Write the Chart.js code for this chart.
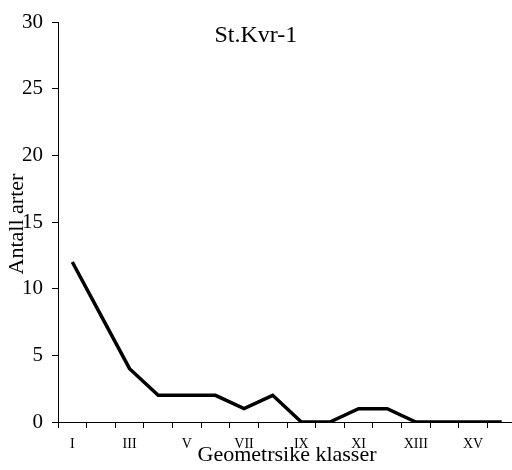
<!DOCTYPE html>
<html><head><meta charset="utf-8">
<script src="https://cdn.jsdelivr.net/npm/chart.js@4/dist/chart.umd.min.js"></script>
<style>html,body{margin:0;padding:0;background:#fff;overflow:hidden}#wrap{width:512px;height:470px;overflow:hidden}</style>
</head><body><div id="wrap"><canvas id="c" width="530" height="470" style="width:530px;height:470px"></canvas></div>
<script>
const categories = ["I","II","III","IV","V","VI","VII","VIII","IX","X","XI","XII","XIII","XIV","XV","XVI"];
const antallArter = [12,8,4,2,2,2,1,2,0,0,1,1,0,0,0,0];
const yTicks = [0,5,10,15,20,25,30];
const chartTitle = "St.Kvr-1";
const yTitle = "Antall arter";
const xTitle = "Geometrsike klasser";
const serif = "'Liberation Serif','Times New Roman',serif";

const textPlugin = {
  id: 'texts',
  afterDraw(chart) {
    const ctx = chart.ctx, a = chart.chartArea;
    ctx.save();
    ctx.fillStyle = '#000';
    ctx.font = "24px " + serif;
    ctx.textAlign = 'center';
    ctx.textBaseline = 'middle';
    ctx.fillText(chartTitle, a.left + (a.right - a.left) * 0.432, a.top + 14);
    ctx.translate(17, a.top + (a.bottom - a.top) * 0.505);
    ctx.rotate(-Math.PI / 2);
    ctx.font = "22px " + serif;
    ctx.fillText(yTitle, 0, 0);
    ctx.restore();
  }
};

new Chart(document.getElementById('c'), {
  type: 'line',
  data: { labels: categories, datasets: [{ data: antallArter, borderColor: '#000', borderWidth: 3.5, pointRadius: 0, tension: 0, fill: false }] },
  options: {
    responsive: false, animation: false,
    layout: { padding: { left: 0, right: 14, top: 22, bottom: 0 } },
    plugins: { legend: { display: false }, tooltip: { enabled: false } },
    scales: {
      x: {
        offset: true,
        grid: { offset: true, drawOnChartArea: false, drawTicks: true, tickLength: 6, color: '#000', lineWidth: 1 },
        border: { color: '#000', width: 1 },
        ticks: { autoSkip: false, maxRotation: 0, color: '#000', font: { family: serif, size: 14 }, padding: 8,
          callback: (v, i) => i % 2 === 0 ? categories[i] : '' },
        title: { display: true, text: xTitle, color: '#000', font: { family: serif, size: 22 }, padding: { top: 0, bottom: 2 } },
        afterFit: s => { s.height = 48; }
      },
      y: {
        min: 0, max: 30,
        afterBuildTicks: s => { s.ticks = yTicks.map(v => ({ value: v })); },
        grid: { drawOnChartArea: false, drawTicks: true, tickLength: 6, color: '#000', lineWidth: 1 },
        border: { color: '#000', width: 1 },
        ticks: { color: '#000', font: { family: serif, size: 21 }, padding: 9 },
        afterFit: s => { s.width = 58; }
      }
    }
  },
  plugins: [textPlugin]
});
</script></body></html>
